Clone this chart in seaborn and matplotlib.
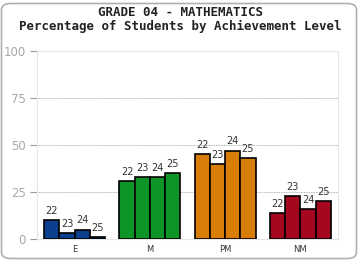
import pandas as pd
import matplotlib.pyplot as plt
import seaborn as sns
from matplotlib.patches import FancyBboxPatch

# achievement levels and school years
levels = ['E', 'M', 'PM', 'NM']
years = ['22', '23', '24', '25']
level_colors = ['#0c3f8e', '#0e9527', '#d97d09', '#a3081f']

# percentage of students per level, one list per year
pct_22 = [10, 31, 45, 14]
pct_23 = [3, 33, 40, 23]
pct_24 = [5, 33, 47, 16]
pct_25 = [1, 35, 43, 20]

yticks = [0, 25, 50, 75, 100]


def main():
    rows = []
    for yr, vals in zip(years, [pct_22, pct_23, pct_24, pct_25]):
        for lvl, v in zip(levels, vals):
            rows.append({'level': lvl, 'year': yr, 'pct': v})
    df = pd.DataFrame(rows)

    sns.set_style('white')
    fig = plt.figure(figsize=(3.6, 2.6), dpi=100)
    ax = fig.add_axes([37 / 360, 1 - 239 / 260, 301 / 360, 188 / 260])

    sns.barplot(data=df, x='level', y='pct', hue='year', order=levels,
                hue_order=years, width=0.81, ax=ax, legend=False,
                edgecolor='black', linewidth=1.2, saturation=1)

    # colour by level, label each bar with its year
    for yr, cont in zip(years, ax.containers):
        for j, bar in enumerate(cont):
            bar.set_facecolor(level_colors[j])
            bar.set_zorder(3)
        ax.bar_label(cont, labels=[yr] * len(levels), padding=3,
                     fontsize=7, color='#333333')

    ax.set_ylim(0, 100)
    ax.set_xlim(-0.5, 3.5)
    ax.set_yticks(yticks)
    ax.set_yticklabels([str(t) for t in yticks], color='#a8a8a8', fontsize=8.5)
    for t in yticks[1:-1]:
        ax.axhline(t, color='#999999', linestyle=(0, (1, 1)), linewidth=0.6, zorder=1)

    ax.tick_params(axis='y', length=5, width=0.8, color='#999999', pad=3, left=True)
    ax.tick_params(axis='x', length=0, pad=4, labelsize=6, labelcolor='#333333')
    ax.set_xlabel('')
    ax.set_ylabel('')
    for s in ax.spines.values():
        s.set_color('#e6e6e6')
        s.set_linewidth(0.8)

    fig.text(0.5, 1 - 13 / 260, 'GRADE 04 - MATHEMATICS', ha='center', va='center',
             family='DejaVu Sans Mono', weight='bold', fontsize=9, color='#222222')
    fig.text(0.5, 1 - 26 / 260, 'Percentage of Students by Achievement Level',
             ha='center', va='center', family='DejaVu Sans Mono', weight='bold',
             fontsize=9, color='#222222')

    frame = FancyBboxPatch((1.5 / 360, 1.5 / 260), 355 / 360, 255 / 260,
                           boxstyle='round,pad=0,rounding_size=0.025',
                           transform=fig.transFigure, fill=False,
                           edgecolor='#b0b0b0', linewidth=1.2)
    fig.patches.append(frame)

    fig.savefig('out.png', dpi=100)


if __name__ == '__main__':
    main()
